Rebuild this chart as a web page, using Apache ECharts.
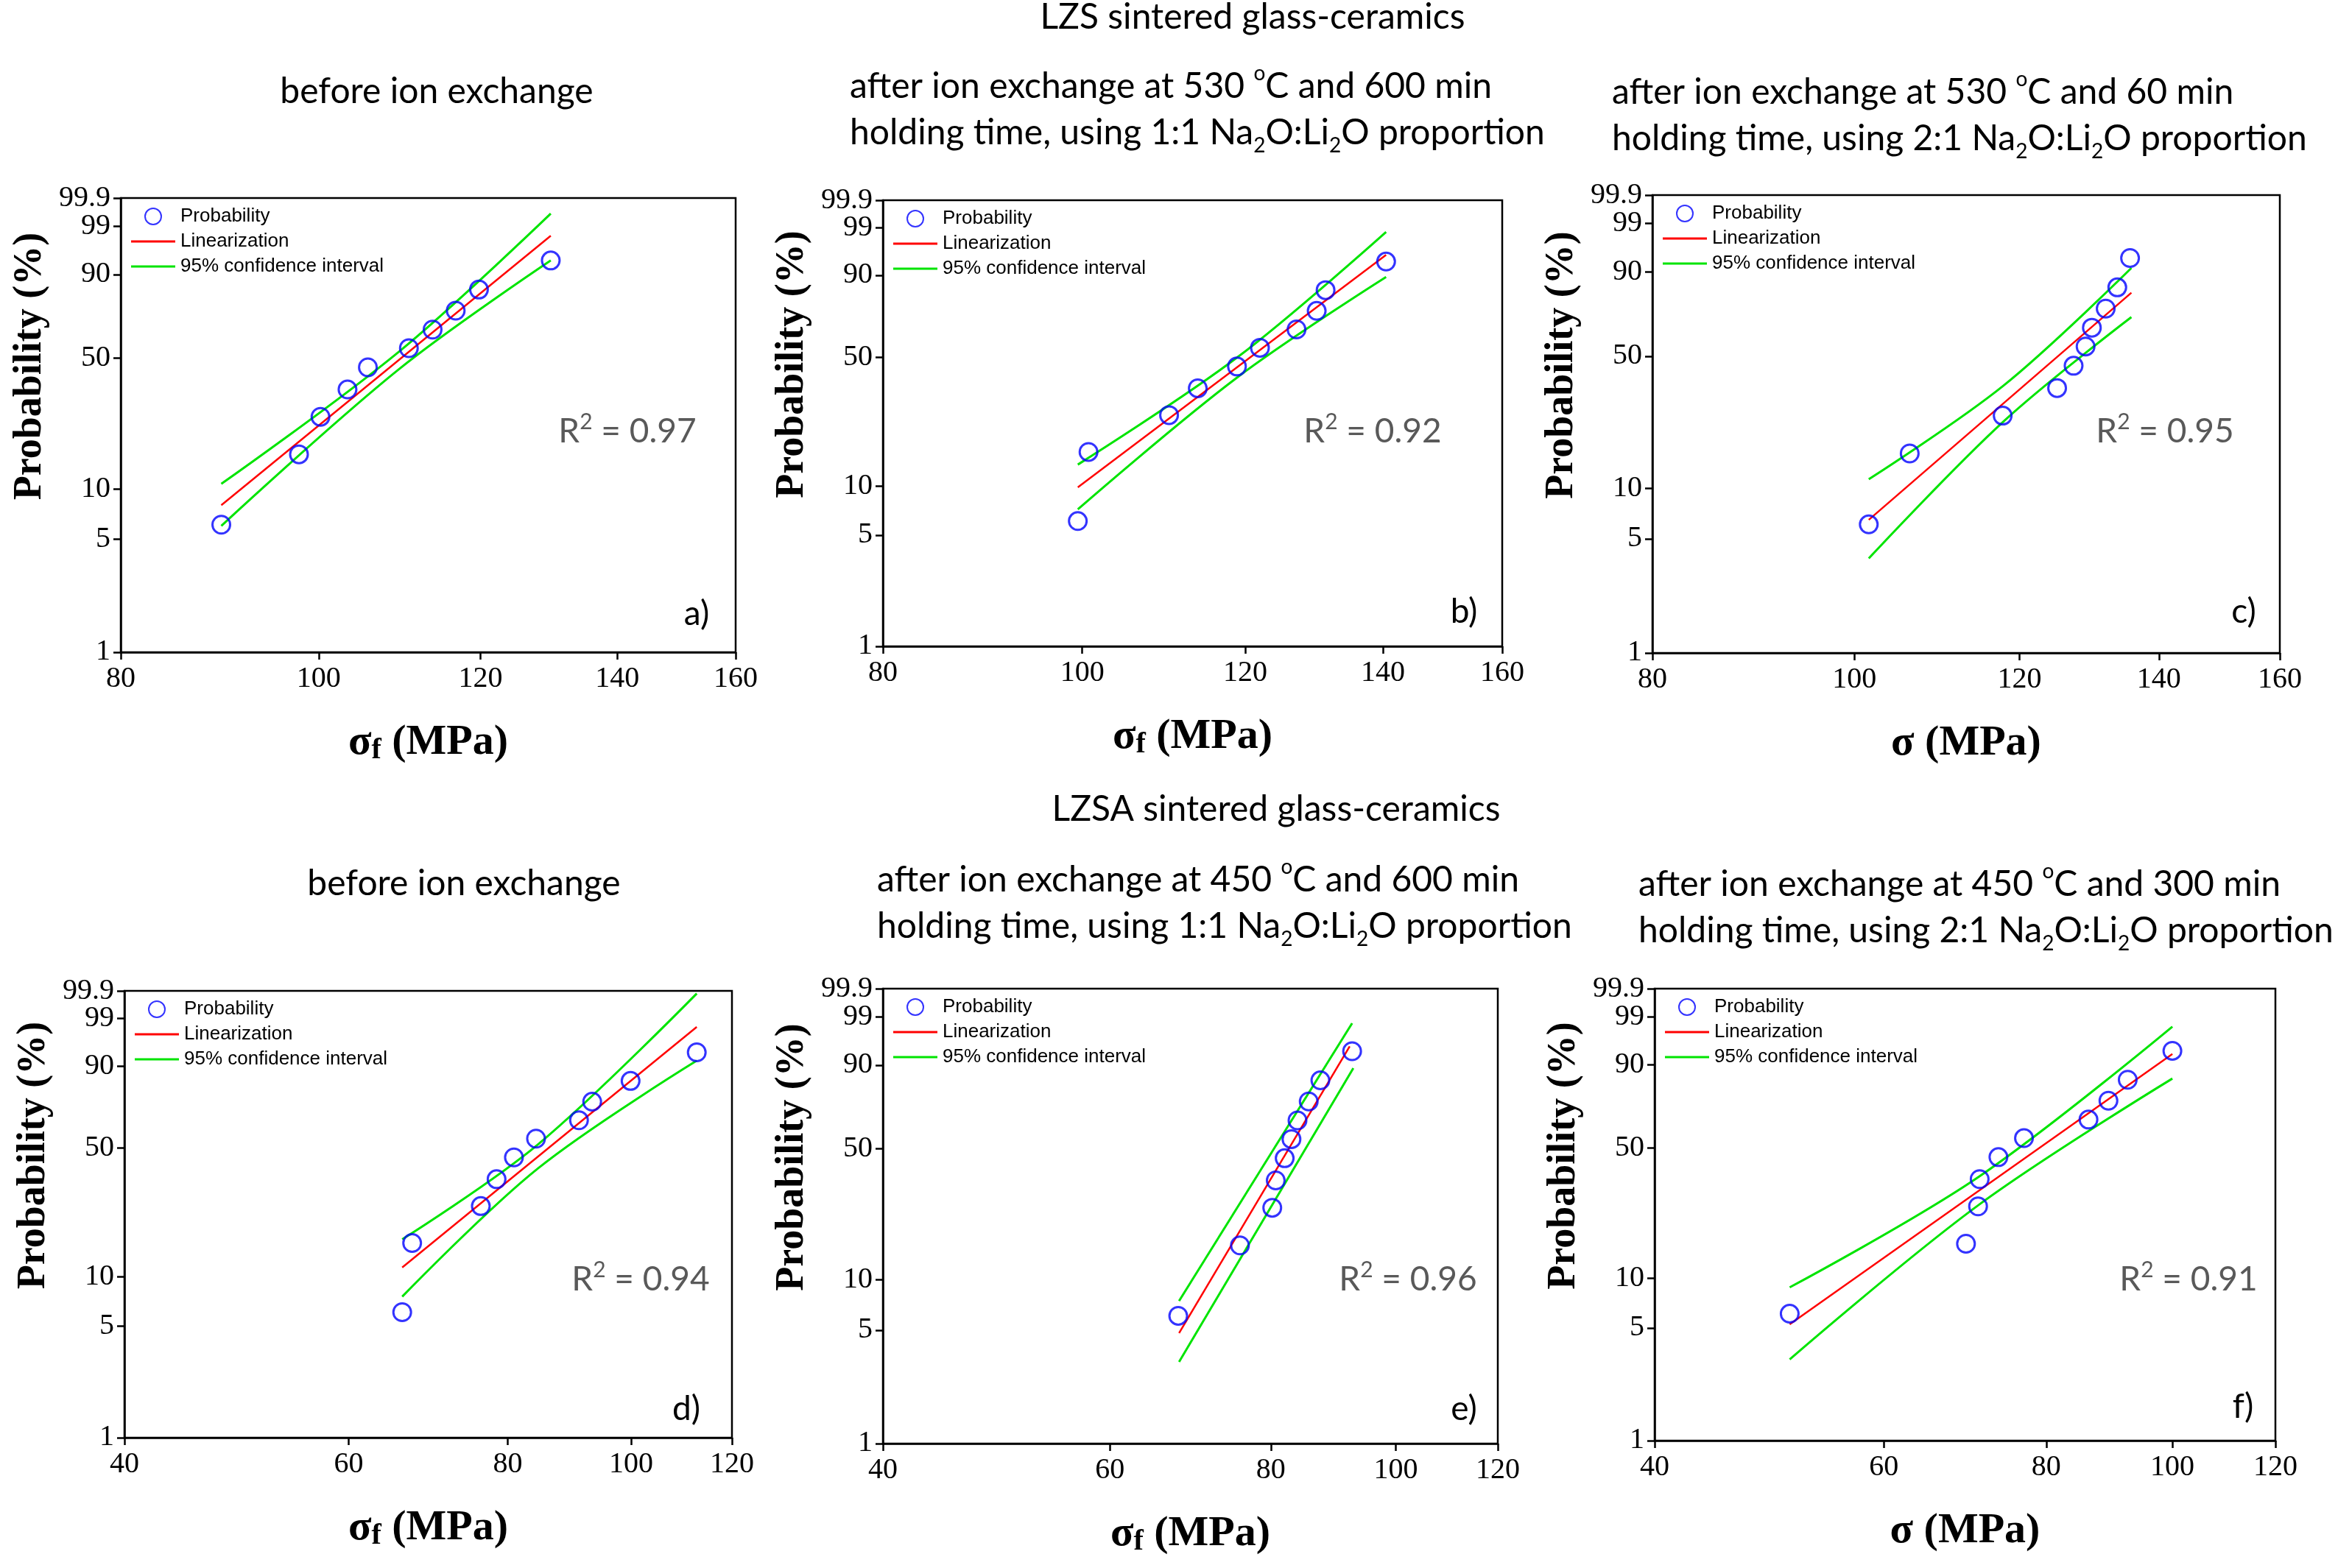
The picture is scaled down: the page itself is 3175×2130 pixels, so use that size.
<!DOCTYPE html>
<html><head><meta charset="utf-8">
<script src="https://cdn.jsdelivr.net/npm/echarts@6/dist/echarts.min.js"></script>
<style>html,body{margin:0;padding:0;background:#fff}#c{width:3175px;height:2130px}</style>
</head><body><div id="c"></div>
<script>
// ---------- DATA ----------
const probability = [6.1, 15.9, 25.7, 35.6, 45.4, 54.9, 64.7, 74.5, 84.3, 94.0]; // %

const sigmaA = [89.6, 97.8, 100.2, 103.3, 105.7, 110.7, 113.7, 116.7, 119.8, 129.9];
const fitA   = [[89.6, 8.0], [129.9, 98.2]];
const upperA = [[89.6, 10.7], [109.4, 52.9], [129.9, 99.6]];
const lowerA = [[89.6, 6.0], [109.4, 44.3], [129.9, 94.0]];

const sigmaB = [99.5, 100.7, 110.2, 113.8, 118.9, 122.0, 127.1, 130.0, 131.3, 140.5];
const fitB   = [[99.5, 9.8], [140.5, 95.5]];
const upperB = [[99.5, 13.4], [118.9, 49.8], [140.5, 98.7]];
const lowerB = [[99.5, 7.2], [118.9, 40.2], [140.5, 89.4]];

const sigmaC = [101.6, 106.3, 117.8, 125.1, 127.4, 129.1, 130.0, 132.0, 133.7, 135.6];
const fitC   = [[101.6, 6.5], [135.8, 82.0]];
const upperC = [[101.6, 11.3], [117.9, 36.6], [135.8, 91.3]];
const lowerC = [[101.6, 3.8], [117.9, 23.9], [135.8, 70.2]];

const sigmaD = [66.1, 67.3, 76.2, 78.4, 80.9, 84.2, 91.0, 93.2, 99.9, 112.6];
const fitD   = [[66.1, 11.4], [112.6, 98.3]];
const upperD = [[66.1, 16.7], [84.5, 51.9], [112.6, 99.87]];
const lowerD = [[66.1, 7.6], [84.5, 40.3], [112.6, 91.7]];

const sigmaE = [67.8, 75.7, 80.2, 80.7, 82.0, 83.0, 83.9, 85.6, 87.4, 92.5];
const fitE   = [[67.9, 4.8], [92.1, 95.1]];
const upperE = [[67.9, 7.5], [92.5, 98.5]];
const lowerE = [[67.9, 3.2], [92.7, 89.0]];

const sigmaF = [50.8, 69.4, 70.9, 71.1, 73.5, 76.9, 86.2, 89.3, 92.4, 100.0];
const fitF   = [[50.8, 5.25], [100.0, 93.2]];
const upperF = [[50.8, 8.8], [71.0, 36.6], [100.0, 98.15]];
const lowerF = [[50.8, 3.2], [71.0, 26.2], [100.0, 84.8]];

const xTicksLZS  = [80, 100, 120, 140, 160];
const xTicksLZSA = [40, 60, 80, 100, 120];
const yTicks      = [1, 5, 10, 50, 90, 99, 99.9];
const yTickLabels = ['1', '5', '10', '50', '90', '99', '99.9'];
const r2Values = ['0.97', '0.92', '0.95', '0.94', '0.96', '0.91'];
const panelLetters = ['a)', 'b)', 'c)', 'd)', 'e)', 'f)'];
const legendNames = ['Probability', 'Linearization', '95% confidence interval'];

// ---------- LAYOUT ----------
const grids = [
  {left: 164, top: 269, width: 835, height: 617},
  {left: 1199, top: 272, width: 841, height: 606},
  {left: 2244, top: 265, width: 852, height: 622},
  {left: 169, top: 1346, width: 825, height: 607},
  {left: 1199, top: 1343, width: 835, height: 618},
  {left: 2247, top: 1343, width: 843, height: 614}
];
const r2Pos = [[852, 586], [1864, 586], [2940, 586], [870, 1738], [1912, 1738], [2972, 1738]];
const letterPos = [[946, 834], [1988, 831], [3047, 831], [932, 1914], [1988, 1914], [3046, 1911]];

// ---------- SCALE TRANSFORMS (Weibull plot) ----------
const L = s => Math.log(s);
const W = p => Math.log(-Math.log(1 - p / 100));

const panels = [
  {sigma: sigmaA, fit: fitA, up: upperA, lo: lowerA, xt: xTicksLZS, sub: true},
  {sigma: sigmaB, fit: fitB, up: upperB, lo: lowerB, xt: xTicksLZS, sub: true},
  {sigma: sigmaC, fit: fitC, up: upperC, lo: lowerC, xt: xTicksLZS, sub: false},
  {sigma: sigmaD, fit: fitD, up: upperD, lo: lowerD, xt: xTicksLZSA, sub: true},
  {sigma: sigmaE, fit: fitE, up: upperE, lo: lowerE, xt: xTicksLZSA, sub: true},
  {sigma: sigmaF, fit: fitF, up: upperF, lo: lowerF, xt: xTicksLZSA, sub: false}
];

const BLUE = '#0000ff', RED = '#ff0000', GREEN = '#00e400';
const serif = 'Liberation Serif';
const yVals = yTicks.map(W);
const EPS = 1e-6;
const lineIcon = 'path://M0,0H60V3H0Z';
const yFmt = v => { let k = 0, best = 1e9; yVals.forEach((t, j) => { const d = Math.abs(t - v); if (d < best) { best = d; k = j; } }); return yTickLabels[k]; };

const option = {
  animation: false,
  backgroundColor: '#fff',
  grid: [], xAxis: [], yAxis: [], legend: [], series: [], graphic: []
};

panels.forEach((p, i) => {
  const g = grids[i];
  option.grid.push({left: g.left, top: g.top, width: g.width, height: g.height,
    show: true, borderColor: '#000', borderWidth: 2.5, backgroundColor: 'transparent'});
  const xv = p.xt.map(L);
  option.xAxis.push({
    gridIndex: i, type: 'value', min: xv[0] - EPS, max: xv[xv.length - 1] + EPS,
    axisLine: {show: true, onZero: false, lineStyle: {color: '#000', width: 2.5}},
    axisTick: {show: true, customValues: xv, length: 10, lineStyle: {color: '#000', width: 2.5}},
    axisLabel: {customValues: xv, formatter: v => String(Math.round(Math.exp(v))),
      showMinLabel: true, showMaxLabel: true, hideOverlap: false,
      fontFamily: serif, fontSize: 40, color: '#000', margin: 16},
    splitLine: {show: false},
    name: p.sub ? '{b|σ}{s|f}{b| (MPa)}' : '{b|σ (MPa)}',
    nameLocation: 'middle', nameGap: 92,
    nameTextStyle: {rich: {
      b: {fontFamily: serif, fontWeight: 'bold', fontSize: 58, color: '#000', lineHeight: 62},
      s: {fontFamily: serif, fontWeight: 'bold', fontSize: 40, color: '#000', lineHeight: 24, verticalAlign: 'bottom'}
    }}
  });
  // main y axis: ticks at all probabilities, labels up to 99
  option.yAxis.push({
    gridIndex: i, type: 'value', min: W(1) - EPS, max: W(99.9) + EPS,
    axisLine: {show: true, onZero: false, lineStyle: {color: '#000', width: 2.5}},
    axisTick: {show: true, customValues: yVals, length: 10, lineStyle: {color: '#000', width: 2.5}},
    axisLabel: {customValues: yVals.slice(0, -1), fontFamily: serif, fontSize: 40, color: '#000', margin: 14,
      showMinLabel: true, showMaxLabel: true, hideOverlap: false, formatter: yFmt},
    splitLine: {show: false},
    name: 'Probability (%)', nameLocation: 'middle', nameGap: 96,
    nameTextStyle: {fontFamily: serif, fontWeight: 'bold', fontSize: 54, color: '#000', padding: [0, 0, 0, 160]}
  });
  // companion y axis carrying the top (99.9) label
  option.yAxis.push({
    gridIndex: i, type: 'value', position: 'left', min: W(1) - EPS, max: W(99.9) + EPS,
    axisLine: {show: false}, axisTick: {show: false}, splitLine: {show: false},
    axisLabel: {customValues: yVals.slice(-1), fontFamily: serif, fontSize: 40, color: '#000', margin: 14,
      showMinLabel: true, showMaxLabel: true, hideOverlap: false, formatter: yFmt}
  });
  option.legend.push({
    left: g.left + 14, top: g.top + 12, orient: 'vertical', padding: 0,
    itemWidth: 60, itemHeight: 22, itemGap: 8, selectedMode: false,
    data: [
      {name: legendNames[0]},
      {name: legendNames[1], icon: lineIcon},
      {name: legendNames[2], icon: lineIcon}
    ],
    textStyle: {fontFamily: 'Liberation Sans', fontSize: 26, color: '#000', padding: [0, 0, 0, 2]}
  });
  const yi = 2 * i;
  option.series.push({
    name: 'Linearization', type: 'line', xAxisIndex: i, yAxisIndex: yi, symbol: 'none',
    lineStyle: {color: RED, width: 2.5}, itemStyle: {color: RED},
    data: p.fit.map(([s, q]) => [L(s), W(q)]), z: 3
  });
  [p.up, p.lo].forEach(band => option.series.push({
    name: '95% confidence interval', type: 'line', xAxisIndex: i, yAxisIndex: yi, symbol: 'none',
    smooth: 0.35, lineStyle: {color: GREEN, width: 3}, itemStyle: {color: GREEN},
    data: band.map(([s, q]) => [L(s), W(q)]), z: 3
  }));
  option.series.push({
    name: 'Probability', type: 'scatter', xAxisIndex: i, yAxisIndex: yi,
    symbol: 'circle', symbolSize: 24,
    itemStyle: {color: 'rgba(0,0,0,0)', borderColor: BLUE, borderWidth: 3},
    data: p.sigma.map((s, k) => [L(s), W(probability[k])]), z: 4
  });
  option.graphic.push({type: 'text', x: r2Pos[i][0], y: r2Pos[i][1], z: 10,
    style: {text: '{r|R}{sup|2}{r| = ' + r2Values[i] + '}', align: 'center', verticalAlign: 'middle',
      rich: {r: {fontFamily: 'Lato', fontSize: 46, fill: '#595959', lineHeight: 56},
             sup: {fontFamily: 'Lato', fontSize: 30, fill: '#595959', lineHeight: 34, verticalAlign: 'top'}}}});
  option.graphic.push({type: 'text', x: letterPos[i][0], y: letterPos[i][1], z: 10,
    style: {text: panelLetters[i], font: '46px Lato', fill: '#000', align: 'center', verticalAlign: 'middle'}});
});

// Titles
const tRich = {
  n: {fontFamily: 'Lato', fontSize: 48, fill: '#000', lineHeight: 63},
  sup: {fontFamily: 'Lato', fontSize: 28, fill: '#000', lineHeight: 32, verticalAlign: 'top'},
  sub: {fontFamily: 'Lato', fontSize: 28, fill: '#000', lineHeight: 26, verticalAlign: 'bottom'}
};
function title(x, y, text, align, vAlign) {
  option.graphic.push({type: 'text', x: x, y: y, z: 10,
    style: {text: text, rich: tRich, align: align, verticalAlign: vAlign}});
}
const line1 = (t, m) => '{n|after ion exchange at ' + t + ' }{sup|o}{n|C and ' + m + ' min}';
const line2 = r => '{n|holding time, using ' + r + ' Na}{sub|2}{n|O:Li}{sub|2}{n|O proportion}';
title(1701, 24, '{n|LZS sintered glass-ceramics}', 'center', 'middle');
title(593, 125, '{n|before ion exchange}', 'center', 'middle');
title(1154, 86, line1('530', '600') + '\n' + line2('1:1'), 'left', 'top');
title(2189, 94, line1('530', '60') + '\n' + line2('2:1'), 'left', 'top');
title(1733, 1100, '{n|LZSA sintered glass-ceramics}', 'center', 'middle');
title(630, 1201, '{n|before ion exchange}', 'center', 'middle');
title(1191, 1164, line1('450', '600') + '\n' + line2('1:1'), 'left', 'top');
title(2225, 1170, line1('450', '300') + '\n' + line2('2:1'), 'left', 'top');

const chart = echarts.init(document.getElementById('c'), null, {renderer: 'canvas'});
chart.setOption(option);
</script></body></html>
